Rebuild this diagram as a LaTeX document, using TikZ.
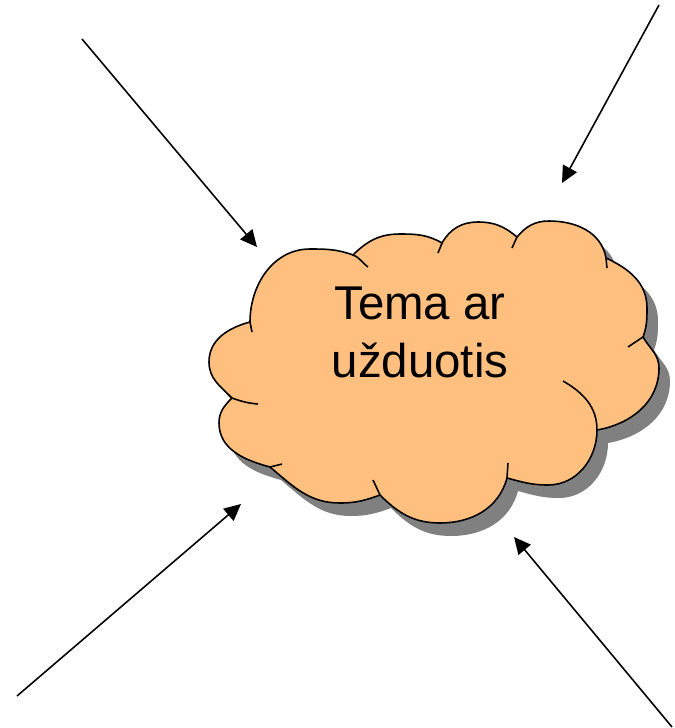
\documentclass[tikz,border=0pt]{standalone}
\usepackage{fontspec}
\setmainfont{Liberation Sans}
\usetikzlibrary{arrows, arrows.meta}
\usetikzlibrary{calc}
\definecolor{cloudfill}{RGB}{255,191,127}
\definecolor{cloudshadow}{RGB}{128,128,128}
\tikzset{
    cloudline/.style={draw=black, line width=0.9pt},
    topicarrow/.style={-{Triangle[length=9.5pt, width=9pt]}, line width=0.9pt},
}
\newcommand{\cloudoutline}{(250,-322) to[out=90,in=180] (310,-249) to[out=0,in=160] (353,-255)
    to[out=45,in=180] (400,-234) to[out=0,in=150] (442,-243)
    to[out=60,in=180] (478,-222) to[out=0,in=140] (517,-237)
    to[out=50,in=180] (549,-221) to[out=0,in=100] (606,-258)
    to[out=-25,in=90] (647,-308) to[out=-90,in=70] (643,-337)
    to[out=-60,in=90] (659,-368) to[out=-90,in=10] (597,-430)
    to[out=-90,in=0] (548,-485) to[out=180,in=-15] (507,-478)
    to[out=-105,in=0] (440,-523) to[out=180,in=-45] (380,-495)
    to[out=-160,in=0] (340,-503) to[out=180,in=-40] (270,-467)
    to[out=165,in=-90] (219,-423) to[out=90,in=-135] (232,-398)
    to[out=135,in=-90] (209,-362) to[out=90,in=-165] (250,-322) -- cycle}

\begin{document}
\begin{tikzpicture}[x=0.02cm, y=0.02cm]
    \useasboundingbox (0,0) rectangle (675,-728);

    \fill[cloudshadow, shift={(11,-13)}] \cloudoutline;
    \filldraw[fill=cloudfill, cloudline] \cloudoutline;

    \draw[cloudline] (252,-332) -- (250,-322);
    \draw[cloudline] (353,-255) to[out=-20,in=145] (368,-267);
    \draw[cloudline] (438,-253) -- (442,-243);
    \draw[cloudline] (512,-248) -- (517,-237);
    \draw[cloudline] (606,-258) -- (607,-268);
    \draw[cloudline] (643,-337) -- (628,-347);
    \draw[cloudline] (563,-381) to[out=-30,in=90] (597,-430);
    \draw[cloudline] (507,-478) -- (508,-463);
    \draw[cloudline] (380,-495) -- (373,-480);
    \draw[cloudline] (270,-467) -- (282,-464);
    \draw[cloudline] (232,-398) to[out=-20,in=175] (258,-404);

    \node[align=center, anchor=north, inner sep=0pt, font=\fontsize{27}{33}\selectfont] (topic) at (420,-287) {Tema ar\\užduotis};

    \coordinate (s1) at (82,-39);
    \coordinate (t1) at (257,-247);
    \coordinate (s2) at (659,-5);
    \coordinate (t2) at (562,-183);
    \coordinate (s3) at (17,-696);
    \coordinate (t3) at (241,-504);
    \coordinate (s4) at (672,-727);
    \coordinate (t4) at (514,-537);

    \draw[topicarrow] (s1) -- (t1);
    \draw[topicarrow] (s2) -- (t2);
    \draw[topicarrow] (s3) -- (t3);
    \draw[topicarrow] (s4) -- (t4);
\end{tikzpicture}
\end{document}
